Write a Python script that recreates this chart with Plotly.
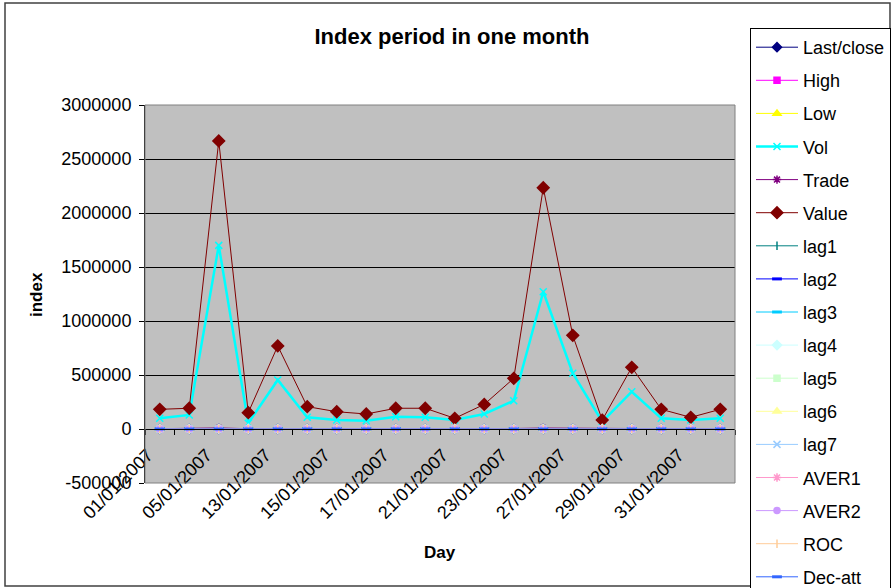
import plotly.graph_objects as go

days = ["01/01/2007", "04/01/2007", "05/01/2007", "12/01/2007", "13/01/2007",
        "14/01/2007", "15/01/2007", "16/01/2007", "17/01/2007", "20/01/2007",
        "21/01/2007", "22/01/2007", "23/01/2007", "26/01/2007", "27/01/2007",
        "28/01/2007", "29/01/2007", "30/01/2007", "31/01/2007", "01/02/2007"]

last_close = [679.8, 682.4, 655.6, 628.3, 640.1, 645.2, 650.9, 648.7, 652.3, 660.5,
              664.2, 670.8, 673.1, 676.4, 668.9, 662.7, 659.0, 655.4, 651.2, 650.1]
high = [684.5, 686.9, 671.2, 640.8, 645.3, 649.9, 654.6, 653.0, 656.1, 663.8,
        667.5, 673.9, 676.2, 680.1, 675.6, 667.0, 663.4, 659.8, 655.0, 654.3]
low = [675.1, 678.0, 640.3, 615.2, 630.7, 640.4, 646.2, 645.1, 648.0, 655.9,
       660.1, 665.2, 669.5, 671.8, 664.3, 658.9, 654.7, 651.6, 647.9, 646.8]
vol = [99000, 130000, 1700000, 53000, 454000, 108000, 83000, 77000, 114000, 108000,
       83000, 139000, 262000, 1271000, 516000, 68000, 345000, 99000, 83000, 99000]
trade = [3100, 3400, 9800, 2900, 6200, 3300, 3000, 2800, 3200, 3100,
         2600, 3500, 4700, 9100, 6400, 2500, 5200, 3100, 2700, 3000]
value = [182000, 192000, 2667000, 151000, 769000, 207000, 160000, 139000, 192000, 192000,
         99000, 228000, 469000, 2234000, 867000, 83000, 571000, 182000, 108000, 182000]
lag1 = [681.2, 679.8, 682.4, 655.6, 628.3, 640.1, 645.2, 650.9, 648.7, 652.3,
        660.5, 664.2, 670.8, 673.1, 676.4, 668.9, 662.7, 659.0, 655.4, 651.2]
lag2 = [683.0, 681.2, 679.8, 682.4, 655.6, 628.3, 640.1, 645.2, 650.9, 648.7,
        652.3, 660.5, 664.2, 670.8, 673.1, 676.4, 668.9, 662.7, 659.0, 655.4]
lag3 = [684.1, 683.0, 681.2, 679.8, 682.4, 655.6, 628.3, 640.1, 645.2, 650.9,
        648.7, 652.3, 660.5, 664.2, 670.8, 673.1, 676.4, 668.9, 662.7, 659.0]
lag4 = [686.5, 684.1, 683.0, 681.2, 679.8, 682.4, 655.6, 628.3, 640.1, 645.2,
        650.9, 648.7, 652.3, 660.5, 664.2, 670.8, 673.1, 676.4, 668.9, 662.7]
lag5 = [688.0, 686.5, 684.1, 683.0, 681.2, 679.8, 682.4, 655.6, 628.3, 640.1,
        645.2, 650.9, 648.7, 652.3, 660.5, 664.2, 670.8, 673.1, 676.4, 668.9]
lag6 = [687.2, 688.0, 686.5, 684.1, 683.0, 681.2, 679.8, 682.4, 655.6, 628.3,
        640.1, 645.2, 650.9, 648.7, 652.3, 660.5, 664.2, 670.8, 673.1, 676.4]
lag7 = [685.9, 687.2, 688.0, 686.5, 684.1, 683.0, 681.2, 679.8, 682.4, 655.6,
        628.3, 640.1, 645.2, 650.9, 648.7, 652.3, 660.5, 664.2, 670.8, 673.1]
aver1 = [683.6, 682.9, 676.1, 664.8, 657.3, 650.5, 644.0, 643.8, 647.4, 651.5,
         655.3, 660.8, 666.2, 671.0, 672.5, 670.8, 668.0, 664.1, 659.4, 655.7]
aver2 = [685.0, 684.7, 681.9, 676.7, 670.1, 664.8, 659.5, 655.2, 651.8, 650.4,
         651.6, 655.0, 658.9, 662.4, 665.7, 667.1, 667.9, 667.3, 665.2, 662.6]
roc = [-0.2, 0.4, -3.9, -4.2, 1.9, 0.8, 0.9, -0.3, 0.6, 1.3,
       0.6, 1.0, 0.3, 0.5, -1.1, -0.9, -0.6, -0.5, -0.6, -0.2]
dec_att = [0, 1, 0, 0, 1, 1, 1, 0, 1, 1,
           1, 1, 1, 1, 0, 0, 0, 0, 0, 0]

y_ticks = [-500000, 0, 500000, 1000000, 1500000, 2000000, 2500000, 3000000]

# name, values, colour, marker symbol, line width, marker size, marker outline width
series = [
    ("Last/close", last_close, "#000080", "diamond", 1, 7, 1.5),
    ("High", high, "#FF00FF", "square", 1, 6, 1.5),
    ("Low", low, "#FFFF00", "triangle-up", 1, 7, 1.5),
    ("Vol", vol, "#00FFFF", "x-thin-open", 2.5, 7, 1.5),
    ("Trade", trade, "#800080", "asterisk-open", 1, 7, 1.5),
    ("Value", value, "#800000", "diamond", 1, 9, 1.5),
    ("lag1", lag1, "#008080", "line-ns-open", 1, 6, 1.5),
    ("lag2", lag2, "#0000FF", "line-ew-open", 1, 7, 3),
    ("lag3", lag3, "#00CCFF", "line-ew-open", 1, 7, 3),
    ("lag4", lag4, "#CCFFFF", "diamond", 1, 7, 1.5),
    ("lag5", lag5, "#CCFFCC", "square", 1, 6, 1.5),
    ("lag6", lag6, "#FFFF99", "triangle-up", 1, 7, 1.5),
    ("lag7", lag7, "#99CCFF", "x-thin-open", 1, 7, 1.5),
    ("AVER1", aver1, "#FF99CC", "asterisk-open", 1, 7, 1.5),
    ("AVER2", aver2, "#CC99FF", "circle", 1, 6, 1.5),
    ("ROC", roc, "#FFCC99", "line-ns-open", 1, 6, 1.5),
    ("Dec-att", dec_att, "#3366FF", "line-ew-open", 1, 7, 3),
]

FONT = "Liberation Sans, Arial, sans-serif"

fig = go.Figure()
for i, (name, vals, color, sym, lw, ms, mlw) in enumerate(series):
    fig.add_trace(go.Scatter(
        x=days, y=vals, name=name, mode="lines+markers",
        line=dict(color=color, width=lw),
        marker=dict(symbol=sym, color=color, size=ms,
                    line=dict(color=color, width=mlw)),
        legendgroup="g%d" % i,
    ))

# helper trace for the zero-crossing category axis (tick marks only)
fig.add_trace(go.Scatter(x=days, y=value, xaxis="x2", yaxis="y", mode="lines",
                         line=dict(width=0), opacity=0, showlegend=False,
                         hoverinfo="skip"))

fig.update_layout(
    width=891, height=588,
    paper_bgcolor="white",
    plot_bgcolor="#C0C0C0",
    margin=dict(l=145, r=156, t=105, b=105, autoexpand=False),
    font=dict(family=FONT, size=18, color="black"),
    title=dict(text="<b>Index period in one month</b>", x=452 / 891, xanchor="center",
               y=1 - 36 / 588, yanchor="middle",
               font=dict(family=FONT, size=22, color="black")),
    xaxis=dict(type="category", range=[-0.5, 19.5], tickmode="linear", tick0=0, dtick=2,
               tickangle=-45, showgrid=False, ticks="", showline=False,
               zeroline=False, tickfont=dict(size=18), automargin=False,
               ticklabelstandoff=-43, ticklabelshift=-12),
    xaxis2=dict(type="category", matches="x", overlaying="x", anchor="free",
                position=1 / 7, side="bottom", showticklabels=False,
                ticks="outside", ticklen=5, tickcolor="black", tickwidth=1,
                tickson="boundaries", tickmode="linear", tick0=0, dtick=1,
                showline=True, linecolor="black", linewidth=1, showgrid=False,
                zeroline=False, automargin=False),
    yaxis=dict(range=[-500000, 3000000], tickvals=y_ticks,
               ticktext=[str(v) for v in y_ticks],
               showgrid=True, gridcolor="black", gridwidth=1,
               zeroline=True, zerolinecolor="black", zerolinewidth=1,
               showline=True, linecolor="black", linewidth=1,
               ticks="outside", ticklen=5, tickcolor="black",
               tickfont=dict(size=18), automargin=False, ticklabelstandoff=4),
    legend=dict(x=(750 - 145) / 590, xanchor="left", y=(483 - 28) / 378, yanchor="top",
                bgcolor="white", bordercolor="black", borderwidth=1,
                font=dict(family=FONT, size=18), tracegroupgap=6.7,
                itemwidth=42, traceorder="grouped", maxheight=580),
    showlegend=True,
    annotations=[
        dict(text="<b>index</b>", xref="paper", yref="paper",
             x=(36 - 145) / 590, y=(483 - 295) / 378, textangle=-90,
             xanchor="center", yanchor="middle",
             showarrow=False, font=dict(family=FONT, size=17)),
        dict(text="<b>Day</b>", xref="paper", yref="paper",
             x=(440 - 145) / 590, y=(483 - 552) / 378,
             xanchor="center", yanchor="middle",
             showarrow=False, font=dict(family=FONT, size=17)),
    ],
    shapes=[
        dict(type="rect", xref="x domain", yref="y domain", x0=0, x1=1, y0=0, y1=1,
             line=dict(color="#808080", width=1), layer="above"),
        dict(type="rect", xref="paper", yref="paper",
             x0=(5 - 145) / 590, x1=(890 - 145) / 590,
             y0=(483 - 586) / 378, y1=(483 - 3) / 378,
             line=dict(color="#404040", width=1.5), layer="below"),
    ],
)

fig.write_html("out.html", config={"displayModeBar": False},
               post_script="document.body.style.margin='0';")
